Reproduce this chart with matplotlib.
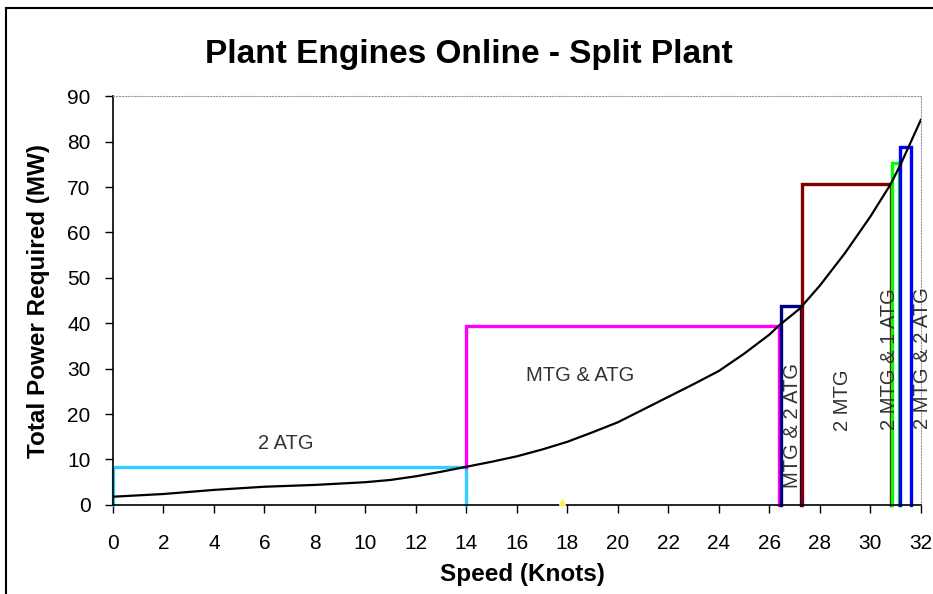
import matplotlib.pyplot as plt
from matplotlib.lines import Line2D

plt.rcParams['font.family'] = ['Liberation Sans', 'DejaVu Sans']

# power curve (speed in knots, MW)
speed = [0, 2, 4, 6, 8, 10, 11, 12, 13, 14, 15, 16, 17, 18, 19, 20, 21, 22, 23, 24, 25, 26,
         26.4, 27.2, 28, 29, 30, 30.8, 31.2, 32]
power = [1.8, 2.4, 3.3, 4.0, 4.4, 5.0, 5.5, 6.3, 7.3, 8.4, 9.5, 10.7, 12.2, 13.9, 16.0, 18.2,
         21.0, 23.8, 26.6, 29.5, 33.3, 37.5, 39.6, 43.2, 48.3, 55.5, 63.5, 70.6, 75.0, 84.8]

# engine line-up boxes
box_names = ['2 ATG', 'MTG & ATG', 'MTG & 2 ATG', '2 MTG', '2 MTG & 1 ATG', '2 MTG & 2 ATG']
box_x0 = [0, 14, 26.45, 27.3, 30.87, 31.17]
box_x1 = [14, 26.4, 27.25, 30.83, 31.15, 31.6]
box_base = [0, 8.3, 0, 0, 0, 0]
box_top = [8.3, 39.4, 43.7, 70.7, 75.2, 78.9]
box_colors = ['#33CCFF', '#FF00FF', '#000080', '#800000', '#00FF00', '#0000FF']

# label positions (x, y, rotation)
label_x = [6.85, 18.5, 26.9, 28.9, 30.75, 32.05]
label_y = [13.6, 28.6, 17.4, 23.0, 32.0, 32.4]
label_rot = [0, 0, 90, 90, 90, 90]

fig = plt.figure(figsize=(9.33, 5.94), dpi=100)
ax = fig.add_axes([0.121, 0.150, 0.866, 0.688])

for i in range(len(box_names)):
    xs = [box_x0[i], box_x0[i], box_x1[i], box_x1[i]]
    ys = [box_base[i], box_top[i], box_top[i], 0]
    ax.plot(xs, ys, color=box_colors[i], lw=2.4, solid_joinstyle='miter', clip_on=False, zorder=2)

ax.plot(speed, power, color='black', lw=1.6, zorder=3)

# small yellow mark on the axis
ax.plot([17.8], [0.6], marker='^', color='#FFEE55', ms=5, clip_on=False, zorder=4)

for i in range(len(box_names)):
    ax.text(label_x[i], label_y[i], box_names[i], rotation=label_rot[i], ha='center', va='center',
            fontsize=14.5, color='#333333', clip_on=False, zorder=5)

ax.set_xlim(0, 32)
ax.set_ylim(0, 90)
ax.set_xticks(range(0, 33, 2))
ax.set_yticks(range(0, 91, 10))
ax.tick_params(axis='both', direction='out', length=6, width=1, labelsize=15)
ax.tick_params(axis='x', pad=15)
ax.tick_params(axis='y', pad=10)
for s in ['top', 'right']:
    ax.spines[s].set_color('#999999')
    ax.spines[s].set_linewidth(0.8)
    ax.spines[s].set_linestyle(':')
for s in ['left', 'bottom']:
    ax.spines[s].set_linewidth(1.2)

ax.set_xlabel('Speed (Knots)', fontsize=17.5, fontweight='bold', va='center')
ax.xaxis.set_label_coords(0.5065, -0.171)
ax.set_ylabel('Total Power Required (MW)', fontsize=17.5, fontweight='bold', va='center')
ax.yaxis.set_label_coords(-0.092, 0.5)
fig.text(0.503, 0.908, 'Plant Engines Online - Split Plant', ha='center', va='center',
         fontsize=24, fontweight='bold')

# outer chart frame (only left and top edges visible in the crop)
fig.add_artist(Line2D([0.006, 0.006], [0, 0.986], transform=fig.transFigure, color='black', lw=1.5))
fig.add_artist(Line2D([0.006, 1.0], [0.986, 0.986], transform=fig.transFigure, color='black', lw=1.5))

fig.savefig('out.png', dpi=100)
